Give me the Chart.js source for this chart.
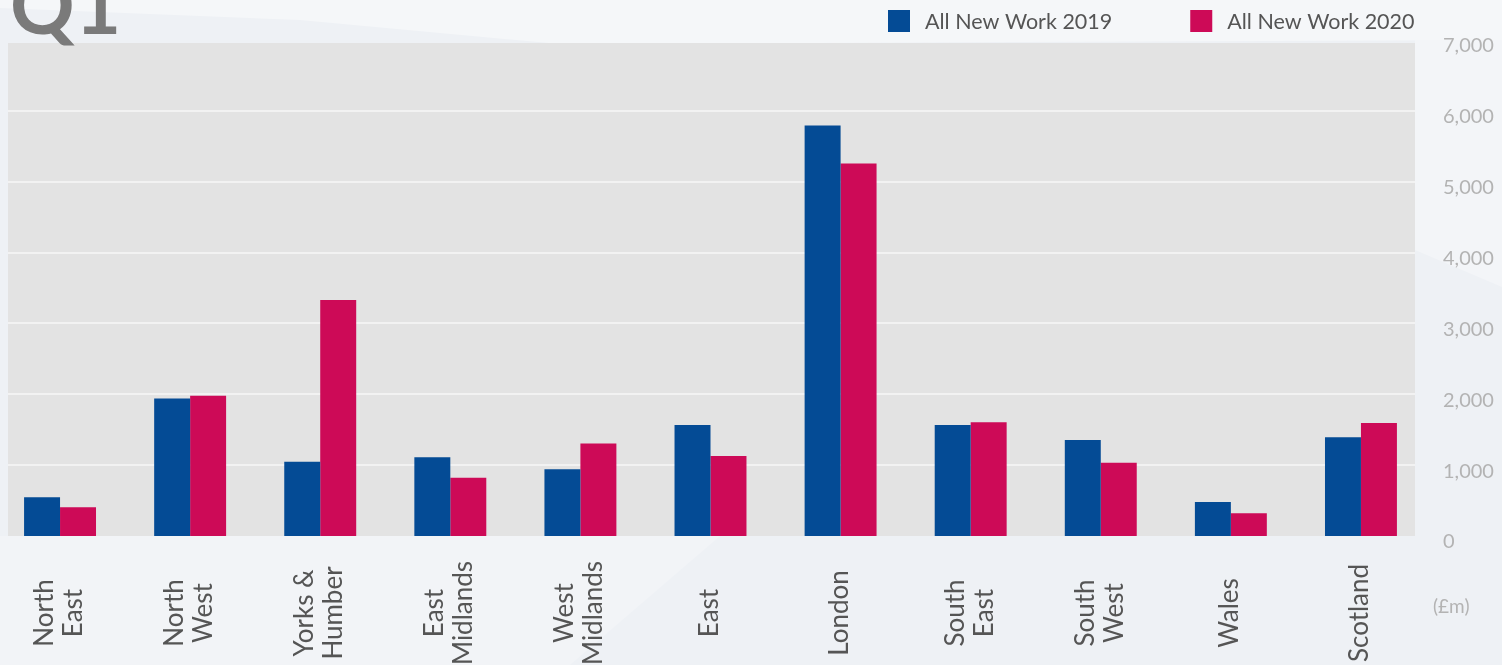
<!DOCTYPE html>
<html>
<head>
<meta charset="utf-8">
<script src="https://cdn.jsdelivr.net/npm/chart.js@4.4.1/dist/chart.umd.min.js"></script>
<style>
  html, body { margin: 0; padding: 0; }
  body {
    width: 1502px; height: 665px; overflow: hidden; position: relative;
    background: #eef1f5;
    font-family: Lato, "Open Sans", sans-serif;
  }
  .sw1 { position: absolute; left: 0; top: 0; width: 1502px; height: 665px;
    background: #f5f7f9;
    clip-path: polygon(0 0, 1502px 0, 1502px 40px, 560px 44px, 300px 20px, 0 8px); }
  .sw2 { position: absolute; left: 0; top: 0; width: 1502px; height: 665px;
    background: #f2f4f7;
    clip-path: polygon(0 536px, 720px 536px, 570px 665px, 0 665px); }
  .sw3 { position: absolute; left: 0; top: 0; width: 1502px; height: 665px;
    background: #f3f5f8;
    clip-path: polygon(1415px 40px, 1502px 40px, 1502px 287px, 1415px 250px); }
  #wrap { position: absolute; left: -5px; top: 0; width: 1507px; height: 665px; }
</style>
</head>
<body>
<div class="sw1"></div>
<div class="sw2"></div>
<div class="sw3"></div>
<div id="wrap"><canvas id="c"></canvas></div>
<script>
// ---- data ----
const categories = [
  ['North', 'East'], ['North', 'West'], ['Yorks &', 'Humber'], ['East', 'Midlands'],
  ['West', 'Midlands'], ['East'], ['London'], ['South', 'East'], ['South', 'West'],
  ['Wales'], ['Scotland']
];
const newWork2019 = [546, 1942, 1048, 1110, 941, 1566, 5793, 1566, 1354, 480, 1392];
const newWork2020 = [405, 1979, 3329, 822, 1307, 1128, 5257, 1604, 1034, 320, 1594];
const seriesNames = ['All New Work 2019', 'All New Work 2020'];
const yTickLabels = ['0', '1,000', '2,000', '3,000', '4,000', '5,000', '6,000', '7,000'];
const unitLabel = '(£m)';
const cornerTitle = 'Q1';

const OFF = 5; // canvas is shifted 5px left of the page
const FONT = 'Lato, "Open Sans", sans-serif';

const decor = {
  id: 'decor',
  beforeDraw(chart) {
    const { ctx, chartArea: a, scales: { y } } = chart;
    const L = a.left + 13, R = a.right - 11, T = a.top + 3, B = a.bottom;
    ctx.save();
    ctx.fillStyle = '#e3e3e3';
    ctx.fillRect(L, T, R - L, B - T);
    ctx.strokeStyle = '#f2f2f2';
    ctx.lineWidth = 2;
    y.ticks.forEach(t => {
      if (t.value > y.min && t.value < y.max) {
        const py = Math.round(y.getPixelForValue(t.value));
        ctx.beginPath(); ctx.moveTo(L, py); ctx.lineTo(R, py); ctx.stroke();
      }
    });
    // corner title
    ctx.fillStyle = '#7a7a7a';
    ctx.font = 'bold 80px ' + FONT;
    ctx.textAlign = 'left';
    ctx.textBaseline = 'alphabetic';
    ctx.fillText(cornerTitle, 10 + OFF, 34);
    ctx.restore();
  },
  afterDraw(chart) {
    const { ctx, scales: { x } } = chart;
    ctx.save();
    // category labels, rotated
    ctx.font = '26px ' + FONT;
    ctx.fillStyle = '#555555';
    ctx.textAlign = 'center';
    ctx.textBaseline = 'middle';
    const lh = 29;
    chart.data.labels.forEach((lab, i) => {
      const px = x.getPixelForTick(i);
      const lines = Array.isArray(lab) ? lab : [lab];
      ctx.save();
      ctx.translate(px - 1, 613);
      ctx.rotate(-Math.PI / 2);
      lines.forEach((ln, j) => ctx.fillText(ln, 0, (j - (lines.length - 1) / 2) * lh));
      ctx.restore();
    });
    // legend
    ctx.font = '21.5px ' + FONT;
    ctx.textAlign = 'left';
    ctx.textBaseline = 'middle';
    let lx = 888 + OFF;
    chart.data.datasets.forEach(ds => {
      ctx.fillStyle = ds.backgroundColor;
      ctx.fillRect(lx, 10, 22, 22);
      ctx.fillStyle = '#555555';
      ctx.fillText(ds.label, lx + 37, 22);
      lx += 37 + ctx.measureText(ds.label).width + 78;
    });
    // unit label
    ctx.font = '19px ' + FONT;
    ctx.fillStyle = '#b3b3b3';
    ctx.fillText(unitLabel, 1433 + OFF, 607);
    ctx.restore();
  }
};

new Chart(document.getElementById('c'), {
  type: 'bar',
  data: {
    labels: categories,
    datasets: [
      { label: seriesNames[0], data: newWork2019, backgroundColor: '#044b95', borderWidth: 0 },
      { label: seriesNames[1], data: newWork2020, backgroundColor: '#cd0a57', borderWidth: 0 }
    ]
  },
  options: {
    responsive: true,
    maintainAspectRatio: false,
    animation: false,
    layout: { padding: { top: 40, bottom: 129, left: 0, right: 0 } },
    datasets: { bar: { categoryPercentage: 0.553, barPercentage: 1.0 } },
    plugins: { legend: { display: false }, tooltip: { enabled: false } },
    scales: {
      x: { display: false, offset: true },
      y: {
        position: 'right',
        min: 0, max: 7000,
        border: { display: false },
        grid: { display: false, drawTicks: false },
        afterFit: s => { s.width = 76; },
        ticks: {
          stepSize: 1000,
          padding: 17,
          labelOffset: 6,
          color: '#b3b3b3',
          font: { family: FONT, size: 20 },
          callback: (v, i) => yTickLabels[i]
        }
      }
    }
  },
  plugins: [decor]
});
</script>
</body>
</html>
